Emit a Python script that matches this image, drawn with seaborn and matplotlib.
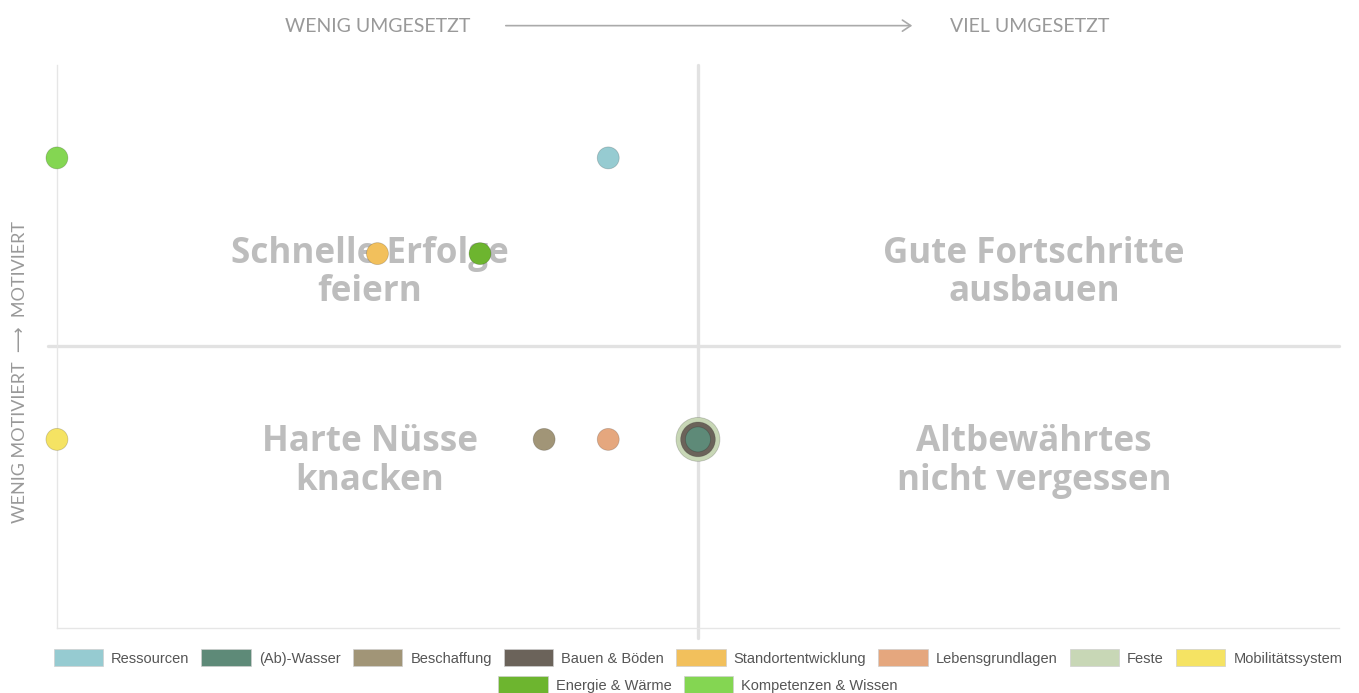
"""Handlungsfelder-Matrix: Motivation vs. Umsetzung."""

import matplotlib
matplotlib.use("Agg")
import matplotlib.pyplot as plt
from matplotlib.patches import Patch, FancyArrowPatch
import pandas as pd
import seaborn as sns

# data (drawing order = z-order, big bubbles first)
felder = [
    "Kompetenzen & Wissen", "Ressourcen", "Standortentwicklung", "Energie & Wärme",
    "Mobilitätssystem", "Beschaffung", "Lebensgrundlagen",
    "Feste", "Bauen & Böden", "(Ab)-Wasser",
]
umsetzung = [0.0, 0.86, 0.50, 0.66, 0.0, 0.76, 0.86, 1.0, 1.0, 1.0]
motivation = [1.67, 1.67, 1.33, 1.33, 0.67, 0.67, 0.67, 0.67, 0.67, 0.67]
gewicht = [1, 1, 1, 1, 1, 1, 1, 4, 2.5, 1.3]

legend_order = [
    "Ressourcen", "(Ab)-Wasser", "Beschaffung", "Bauen & Böden", "Standortentwicklung",
    "Lebensgrundlagen", "Feste", "Mobilitätssystem", "Energie & Wärme", "Kompetenzen & Wissen",
]
farben = {
    "Ressourcen": "#96cbd1",
    "(Ab)-Wasser": "#5e8a78",
    "Beschaffung": "#a19577",
    "Bauen & Böden": "#6b635a",
    "Standortentwicklung": "#f2c05c",
    "Lebensgrundlagen": "#e5a77e",
    "Feste": "#c8d7b6",
    "Mobilitätssystem": "#f5e363",
    "Energie & Wärme": "#6db52f",
    "Kompetenzen & Wissen": "#84d652",
}

quadranten = ["Schnelle Erfolge\nfeiern", "Gute Fortschritte\nausbauen",
              "Harte Nüsse\nknacken", "Altbewährtes\nnicht vergessen"]
quad_x = [0.488, 1.524, 0.488, 1.524]
quad_y = [1.261, 1.261, 0.591, 0.591]

df = pd.DataFrame({"feld": felder, "x": umsetzung, "y": motivation, "w": gewicht})

sns.set_theme(style="white")
plt.rcParams["font.family"] = ["Lato", "DejaVu Sans"]

fig = plt.figure(figsize=(13.59, 6.93), dpi=100)
ax = fig.add_axes([0.0419, 0.0938, 0.9434, 0.8124])

ax.axvline(1.0, ymin=-0.018, ymax=1.0, color="#e2e2e2", lw=2.4, zorder=1, clip_on=False)
ax.axhline(1.0, xmin=-0.007, xmax=1.0, color="#e2e2e2", lw=2.4, zorder=1, clip_on=False)

for txt, qx, qy in zip(quadranten, quad_x, quad_y):
    ax.text(qx, qy, txt, ha="center", va="center", fontsize=25.2, fontweight="bold",
            color="#bdbdbd", linespacing=1.1, family=["Open Sans", "DejaVu Sans"], zorder=2)

sns.scatterplot(data=df, x="x", y="y", hue="feld", palette=farben, size="w",
                sizes=(250, 1000), size_norm=(1, 4), edgecolor=(0, 0, 0, 0.18),
                linewidth=0.6, legend=False, ax=ax, zorder=3)
for c in ax.collections:
    c.set_clip_on(False)

ax.set_xlim(0, 2)
ax.set_ylim(0, 2)
ax.set_xlabel("")
ax.set_ylabel("")
ax.set_xticks([])
ax.set_yticks([])
for side in ["top", "right"]:
    ax.spines[side].set_visible(False)
for side in ["left", "bottom"]:
    ax.spines[side].set_color("#e6e6e6")
    ax.spines[side].set_linewidth(1.0)

# axis captions
cap = dict(ha="center", va="center", fontsize=14, color="#999999")
fig.text(0.278, 0.962, "WENIG UMGESETZT", **cap)
fig.text(0.758, 0.962, "VIEL UMGESETZT", **cap)
fig.add_artist(FancyArrowPatch(
    (503 / 1359, 0.963), (915 / 1359, 0.963), transform=fig.transFigure,
    arrowstyle="->,head_length=6,head_width=4", color="#aaaaaa", lw=1.2))
fig.text(0.0147, 0.463, "WENIG MOTIVIERT  ⟶  MOTIVIERT", rotation=90,
         family=["Lato", "DejaVu Sans"], **{**cap, "fontsize": 13})

# legend in two rows, centred on the vertical midline
handles = [Patch(facecolor=farben[n], edgecolor="#cfcfcf", lw=0.5, label=n) for n in legend_order]
common = dict(frameon=False, handlelength=3.4, handleheight=1.35, handletextpad=0.55,
              columnspacing=0.82, prop={"family": "Liberation Sans", "size": 10.5},
              labelcolor="#555555")
fig.legend(handles=handles[:8], ncol=8, loc="center", bbox_to_anchor=(0.5136, 0.051), **common)
fig.legend(handles=handles[8:], ncol=2, loc="center", bbox_to_anchor=(0.5136, 0.012), **common)

fig.savefig("out.png", dpi=100)
